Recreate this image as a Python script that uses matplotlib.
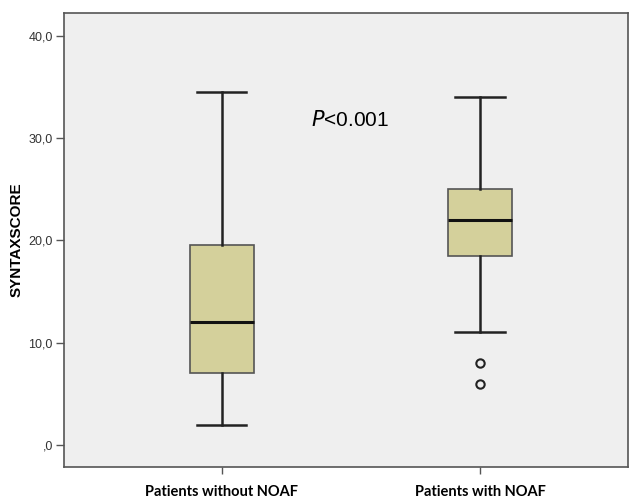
import numpy as np
from matplotlib import pyplot as plt

# groups and box statistics
groups = ["Patients without NOAF", "Patients with NOAF"]
whislo = [2.0, 11.0]
q1 = [7.0, 18.5]
med = [12.0, 22.0]
q3 = [19.5, 25.0]
whishi = [34.5, 34.0]
fliers = [[], [8.0, 6.0]]
yticks = [0, 10, 20, 30, 40]
ytick_labels = [",0", "10,0", "20,0", "30,0", "40,0"]

stats = []
for k in range(len(groups)):
    stats.append({"whislo": whislo[k], "q1": q1[k], "med": med[k],
                  "q3": q3[k], "whishi": whishi[k], "fliers": fliers[k]})

fig = plt.figure(figsize=(6.33, 4.99), dpi=100)
ax = fig.add_axes([64/633, 32/499, 564/633, 454/499])
ax.set_facecolor("#efefef")

ax.bxp(stats, positions=[1, 2], widths=0.248, patch_artist=True,
       boxprops=dict(facecolor="#d4d09b", edgecolor="#555555", linewidth=1.2),
       medianprops=dict(color="#111111", linewidth=2.2),
       whiskerprops=dict(color="#222222", linewidth=1.8),
       capprops=dict(color="#222222", linewidth=1.8),
       capwidths=0.19,
       flierprops=dict(marker="o", markerfacecolor="none", markeredgecolor="#222222",
                       markersize=6, markeredgewidth=1.5))

ax.set_xlim(0.39, 2.573)
ax.set_ylim(-2.15, 42.2)
ax.set_yticks(yticks)
ax.set_yticklabels(ytick_labels, fontsize=9, family="Liberation Sans", color="#333333")
ax.set_xticks([1, 2])
ax.set_xticklabels(groups, fontsize=10.5, fontweight="bold", family="Lato")
ax.tick_params(axis="y", length=6, width=1, color="#555555", pad=2)
ax.tick_params(axis="x", length=5, width=1, color="#555555", pad=8)
for s in ax.spines.values():
    s.set_color("#555555")
    s.set_linewidth(1.2)

ax.set_ylabel("SYNTAXSCORE", fontsize=11, fontweight="bold", family="Liberation Sans")
ax.yaxis.set_label_coords(-0.071, 0.5)
ax.text(1.497, 31.7, "$\\it{P}$<0.001", fontsize=15, ha="center", va="center",
        family="Liberation Sans")

fig.savefig("out.png", dpi=100)
